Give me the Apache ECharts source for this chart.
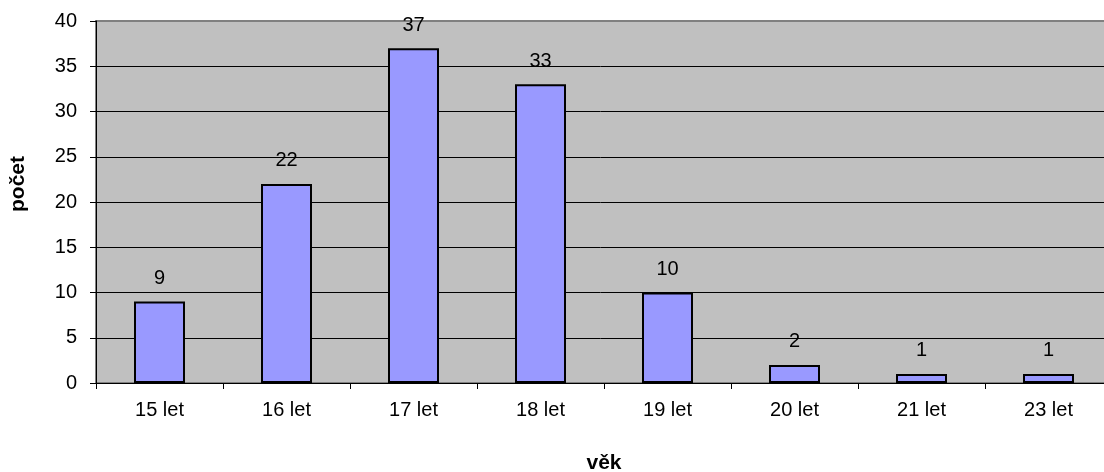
<!DOCTYPE html>
<html><head><meta charset="utf-8">
<script src="https://cdn.jsdelivr.net/npm/echarts@6/dist/echarts.min.js"></script>
<style>html,body{margin:0;padding:0;background:#fff}#c{width:1104px;height:472px}</style>
</head><body><div id="c"></div>
<script>
const categories = ['15 let','16 let','17 let','18 let','19 let','20 let','21 let','23 let'];
const counts = [9,22,37,33,10,2,1,1];
const yTicks = [0,5,10,15,20,25,30,35,40];
const xTitle = 'věk';
const yTitle = 'počet';
const FONT = '"Liberation Sans", Arial, sans-serif';
const chart = echarts.init(document.getElementById('c'), null, {renderer:'canvas'});
chart.setOption({
  animation:false,
  backgroundColor:'#ffffff',
  grid:{left:96,right:-8,top:21,bottom:89,outerBoundsMode:'none',containLabel:false,
    show:true,backgroundColor:'#C0C0C0',borderColor:'#808080',borderWidth:2},
  graphic:[{
    type:'text',x:18,y:184,rotation:Math.PI/2,
    style:{text:yTitle,font:'bold 21px "Liberation Sans", Arial, sans-serif',fill:'#000',align:'center',verticalAlign:'middle'}
  }],
  xAxis:{
    type:'category',data:categories,
    name:xTitle,nameLocation:'middle',nameGap:70,
    nameTextStyle:{fontFamily:FONT,fontSize:21,fontWeight:'bold',color:'#000'},
    axisLine:{lineStyle:{color:'#000',width:1}},
    axisTick:{show:true,length:6,lineStyle:{color:'#000'}},
    axisLabel:{fontFamily:FONT,fontSize:20,color:'#000',margin:17}
  },
  yAxis:{
    type:'value',min:0,max:40,interval:5,
    axisLine:{show:true,lineStyle:{color:'#000',width:1}},
    axisTick:{show:true,length:6,lineStyle:{color:'#000'}},
    axisLabel:{fontFamily:FONT,fontSize:20,color:'#000',margin:19,
      formatter:function(v){return yTicks.indexOf(v)>=0?String(v):'';}},
    splitLine:{show:true,lineStyle:{color:['#000','#000','#000','#000','#000','#000','#000','#000','#808080'],width:1}}
  },
  series:[{
    type:'bar',data:counts,barWidth:51,
    itemStyle:{color:'#9999FF',borderColor:'#000',borderWidth:2},
    label:{show:true,position:'top',distance:13,fontFamily:FONT,fontSize:20,color:'#000'}
  }]
});
</script></body></html>
